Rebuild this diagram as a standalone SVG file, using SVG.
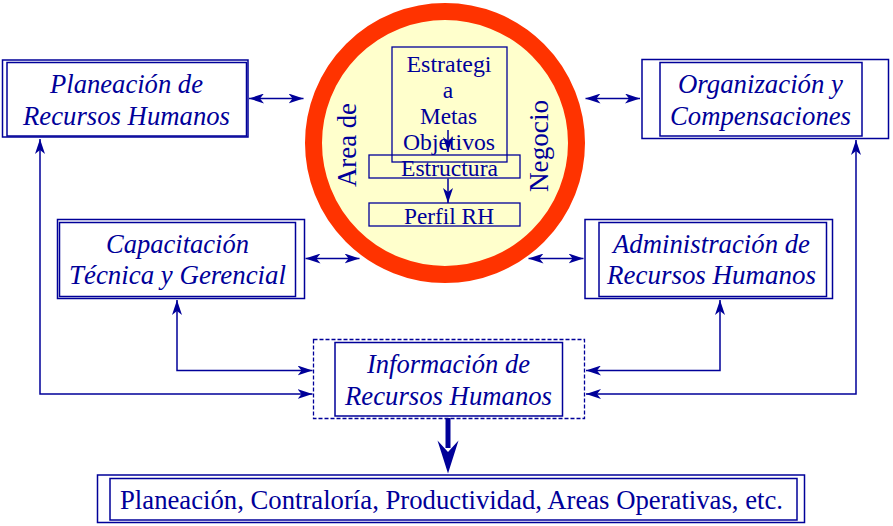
<svg xmlns="http://www.w3.org/2000/svg" width="893" height="526" viewBox="0 0 893 526">
<defs>
<marker id="ah" markerUnits="userSpaceOnUse" markerWidth="15" markerHeight="10" refX="15" refY="5" orient="auto-start-reverse">
<path d="M0,0 L15,5 L0,10 L4,5 Z" fill="#000099"/>
</marker>
</defs>
<rect width="893" height="526" fill="#ffffff"/>

<g font-family="Liberation Serif, serif" fill="#000099" text-anchor="middle">
<g id="circle">
<circle cx="445" cy="143" r="131.5" fill="#FFFFCC" stroke="#FF3300" stroke-width="17"/>
<text font-family="Liberation Serif" font-size="27" transform="translate(356,145) rotate(-90)" textLength="84" lengthAdjust="spacingAndGlyphs">Area de</text>
<text font-family="Liberation Serif" font-size="27" transform="translate(548,146) rotate(-90)" textLength="92" lengthAdjust="spacingAndGlyphs">Negocio</text>
</g>

<g id="estrategia" font-size="23.5">
<rect x="392" y="47" width="115" height="115" fill="none" stroke="#000099" stroke-width="1.3"/>
<text font-family="Liberation Serif" x="449" y="72" textLength="85" lengthAdjust="spacingAndGlyphs">Estrategi</text>
<text font-family="Liberation Serif" x="448" y="98">a</text>
<text font-family="Liberation Serif" x="448.5" y="124" textLength="57" lengthAdjust="spacingAndGlyphs">Metas</text>
<text font-family="Liberation Serif" x="449" y="150" textLength="92" lengthAdjust="spacingAndGlyphs">Objetivos</text>
</g>
<g id="estructura" font-size="23.5">
<rect x="369" y="155" width="151" height="23" fill="none" stroke="#000099" stroke-width="1.3"/>
<text font-family="Liberation Serif" x="449.5" y="176" textLength="97" lengthAdjust="spacingAndGlyphs">Estructura</text>
</g>
<g id="perfil" font-size="23.5">
<rect x="369" y="203" width="151" height="23" fill="none" stroke="#000099" stroke-width="1.3"/>
<text font-family="Liberation Serif" x="449" y="224" textLength="90" lengthAdjust="spacingAndGlyphs">Perfil RH</text>
</g>

<g id="planeacion" font-size="26.5" font-style="italic">
<rect x="2.5" y="60" width="245.5" height="77" fill="none" stroke="#000099" stroke-width="1.5"/>
<rect x="7" y="62.5" width="239.5" height="73.5" fill="none" stroke="#000099" stroke-width="1.5"/>
<text font-family="Liberation Serif" x="126.5" y="93" textLength="153" lengthAdjust="spacingAndGlyphs">Planeación de</text>
<text font-family="Liberation Serif" x="126.5" y="124.5" textLength="207" lengthAdjust="spacingAndGlyphs">Recursos Humanos</text>
</g>

<g id="organizacion" font-size="26.5" font-style="italic">
<rect x="642" y="59.5" width="246.5" height="79" fill="none" stroke="#000099" stroke-width="1.5"/>
<rect x="660" y="62.5" width="202" height="73.5" fill="none" stroke="#000099" stroke-width="1.5"/>
<text font-family="Liberation Serif" x="760.5" y="93" textLength="165" lengthAdjust="spacingAndGlyphs">Organización y</text>
<text font-family="Liberation Serif" x="760.5" y="124.5" textLength="181" lengthAdjust="spacingAndGlyphs">Compensaciones</text>
</g>

<g id="capacitacion" font-size="26.5" font-style="italic">
<rect x="57.5" y="219.5" width="247" height="79" fill="none" stroke="#000099" stroke-width="1.5"/>
<rect x="59.5" y="222.5" width="236" height="74" fill="none" stroke="#000099" stroke-width="1.5"/>
<text font-family="Liberation Serif" x="177.5" y="252.5" textLength="143" lengthAdjust="spacingAndGlyphs">Capacitación</text>
<text font-family="Liberation Serif" x="177.5" y="283.5" textLength="217" lengthAdjust="spacingAndGlyphs">Técnica y Gerencial</text>
</g>

<g id="administracion" font-size="26.5" font-style="italic">
<rect x="585" y="219.5" width="247.5" height="79" fill="none" stroke="#000099" stroke-width="1.5"/>
<rect x="599" y="222.5" width="227.5" height="74" fill="none" stroke="#000099" stroke-width="1.5"/>
<text font-family="Liberation Serif" x="711.5" y="252.5" textLength="197" lengthAdjust="spacingAndGlyphs">Administración de</text>
<text font-family="Liberation Serif" x="711.5" y="284" textLength="209" lengthAdjust="spacingAndGlyphs">Recursos Humanos</text>
</g>

<g id="informacion" font-size="26.5" font-style="italic">
<rect x="313.5" y="339.5" width="271" height="79" fill="none" stroke="#000099" stroke-width="1.3" stroke-dasharray="4 2"/>
<rect x="335" y="342.5" width="227.5" height="73.5" fill="none" stroke="#000099" stroke-width="1.5"/>
<text font-family="Liberation Serif" x="448.5" y="373" textLength="163" lengthAdjust="spacingAndGlyphs">Información de</text>
<text font-family="Liberation Serif" x="448.5" y="404.5" textLength="207" lengthAdjust="spacingAndGlyphs">Recursos Humanos</text>
</g>

<g id="areas" font-size="26.5">
<rect x="97.5" y="475" width="707" height="47.5" fill="none" stroke="#000099" stroke-width="1.5"/>
<rect x="110" y="478.5" width="687" height="41.5" fill="none" stroke="#000099" stroke-width="1.5"/>
<text font-family="Liberation Serif" x="451.5" y="508.5" textLength="663" lengthAdjust="spacingAndGlyphs">Planeación, Contraloría, Productividad, Areas Operativas, etc.</text>
</g>
</g>

<g id="connectors" fill="none" stroke="#000099" stroke-width="1.5">
<path d="M249,98.5 H303.5" marker-start="url(#ah)" marker-end="url(#ah)"/>
<path d="M585.5,98.5 H640" marker-start="url(#ah)" marker-end="url(#ah)"/>
<path d="M305.5,258.5 H359.5" marker-start="url(#ah)" marker-end="url(#ah)"/>
<path d="M528.5,258.5 H583.5" marker-start="url(#ah)" marker-end="url(#ah)"/>
<path d="M312.5,394 H40 V139" marker-start="url(#ah)" marker-end="url(#ah)"/>
<path d="M312.5,370.5 H177 V300" marker-start="url(#ah)" marker-end="url(#ah)"/>
<path d="M586,370.5 H720 V300" marker-start="url(#ah)" marker-end="url(#ah)"/>
<path d="M586,394 H856 V140" marker-start="url(#ah)" marker-end="url(#ah)"/>
<path d="M448,130 V152" marker-end="url(#ah)"/>
<path d="M448,178.5 V203" marker-end="url(#ah)"/>
<path d="M448,418 V448" stroke-width="5"/>
<path d="M448,473.5 L437.5,440.5 L448,452 L458.5,440.5 Z" fill="#000099" stroke="none"/>
</g>
</svg>
